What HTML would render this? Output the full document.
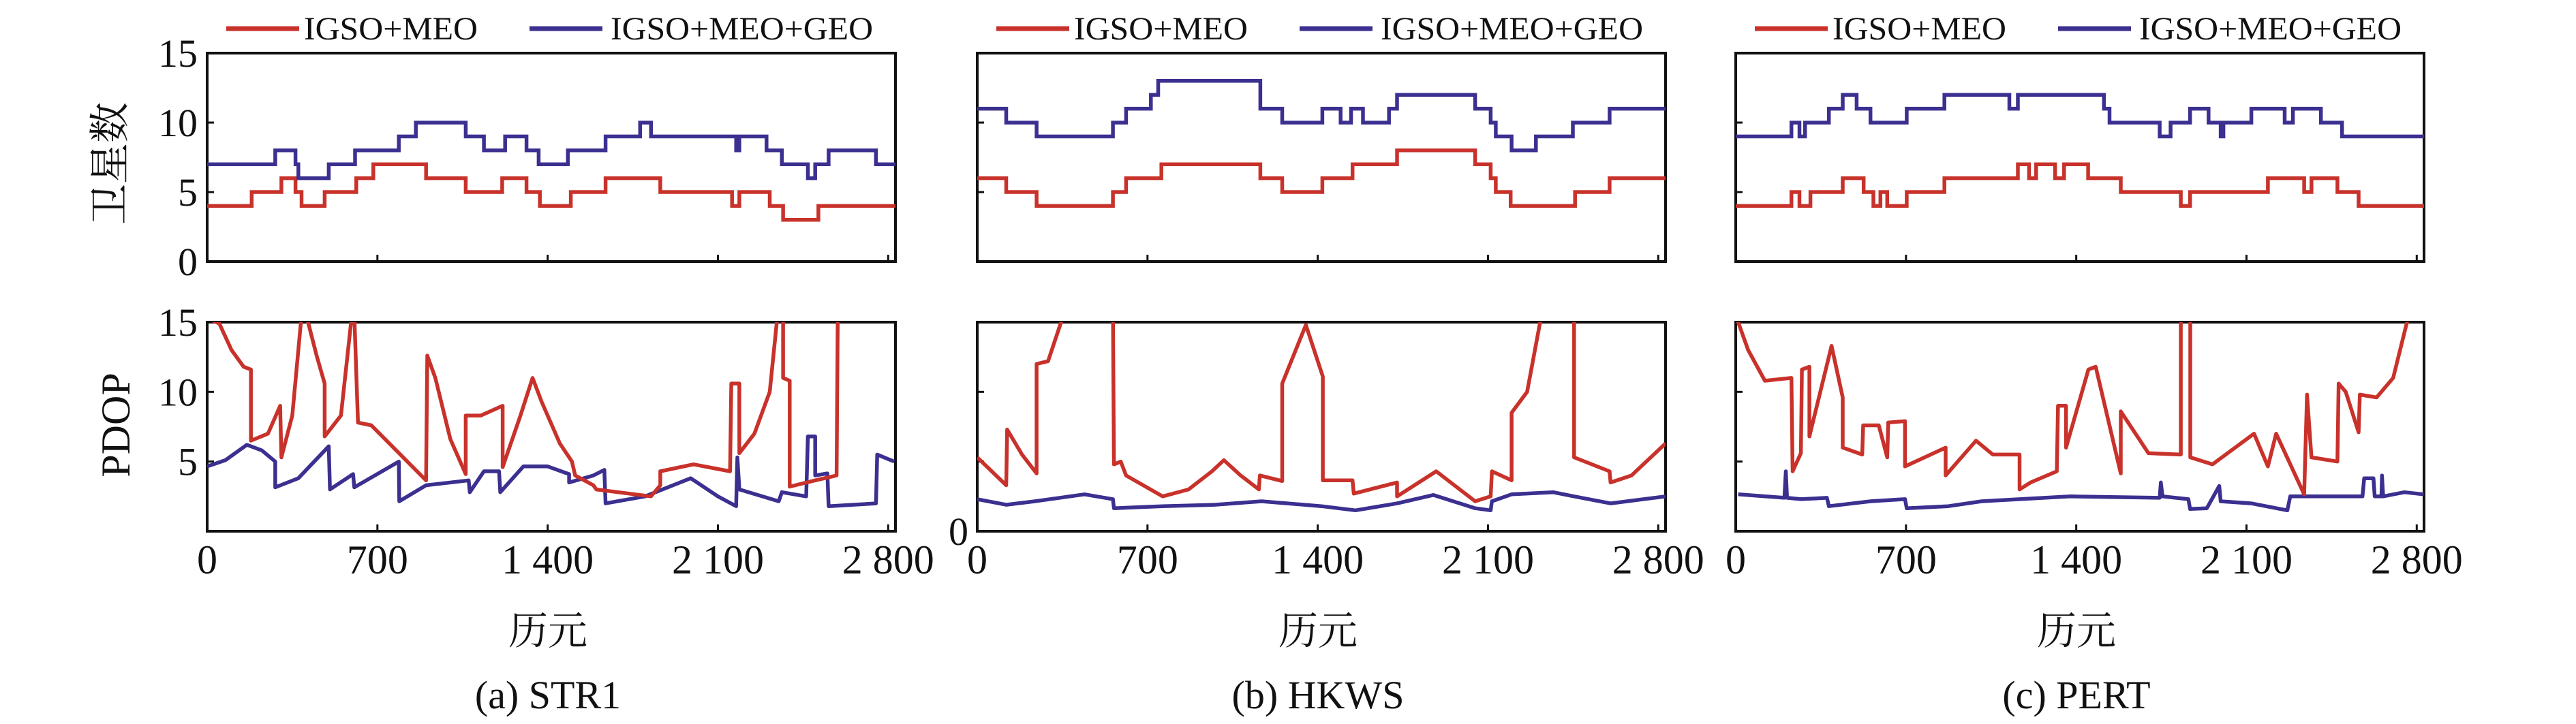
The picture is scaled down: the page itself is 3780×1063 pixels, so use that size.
<!DOCTYPE html>
<html><head><meta charset="utf-8"><style>
html,body{margin:0;padding:0;background:#fff;}
svg{display:block;}
text{font-family:"Liberation Serif","Noto Serif CJK SC",serif;fill:#111;}
</style></head><body>
<svg id="fig" width="3780" height="1063" viewBox="0 0 3780 1063" xmlns="http://www.w3.org/2000/svg"></svg>
<script>
// ---- data ----
const xTicks = [0, 700, 1400, 2100, 2800];
const xTickLabels = ["0", "700", "1 400", "2 100", "2 800"];
const yTicks = [0, 5, 10, 15];
const yTickLabels = ["0", "5", "10", "15"];
const seriesNames = ["IGSO+MEO", "IGSO+MEO+GEO"];
const panelNames = ["(a) STR1", "(b) HKWS", "(c) PERT"];

const aSatRedX = [0,183,305,363,388,483,613,683,900,1063,1213,1313,1368,1495,1638,1863,2158,2188,2313,2368,2513];
const aSatRedV = [4,5,6,5,4,5,6,7,6,5,6,5,4,5,6,5,4,5,4,3,4];
const aSatBlueX = [0,280,363,375,500,608,788,858,1063,1138,1225,1313,1363,1483,1638,1780,1825,2175,2188,2300,2363,2470,2500,2555,2750];
const aSatBlueV = [7,8,7,6,7,8,9,10,9,8,9,8,7,8,9,10,9,8,9,8,7,6,7,8,7];
const bSatRedX = [0,119,244,558,612,757,1164,1254,1419,1543,1726,2047,2111,2132,2193,2458,2600];
const bSatRedV = [6,5,4,5,6,7,6,5,6,7,8,7,6,5,4,5,6];
const bSatBlueX = [0,119,244,558,612,714,744,1164,1254,1419,1494,1537,1586,1693,1726,2047,2111,2132,2197,2297,2449,2600];
const bSatBlueV = [11,10,9,10,11,12,13,11,10,11,10,11,10,11,12,11,10,9,8,9,10,11];
const cSatRedX = [0,229,262,307,440,526,566,595,623,703,858,1160,1206,1235,1313,1350,1449,1583,1830,1868,2188,2337,2367,2474,2561];
const cSatRedV = [4,5,4,5,6,5,4,5,4,5,6,7,6,7,6,7,6,5,4,5,6,5,6,5,4];
const cSatBlueX = [0,229,262,285,383,440,497,554,600,703,858,1125,1160,1514,1537,1743,1788,1868,1944,1994,2005,2120,2257,2291,2406,2493];
const cSatBlueV = [9,10,9,10,11,12,11,10,10,11,12,11,12,11,10,9,10,11,10,9,10,11,10,11,10,9];

const aPdopRedE = [0,50,100,150,180,180,250,300,305,350,388,400,450,483,483,550,595,605,620,675,900,905,938,1000,1063,1063,1125,1215,1215,1288,1338,1375,1450,1500,1513,1588,1600,1825,1863,1863,2000,2150,2155,2188,2188,2250,2313,2345,2368,2368,2395,2395,2500,2588,2593,2600];
const aPdopRedV = [15.3,14.9,13,11.8,11.6,6.5,7,9,5.3,8.3,15.5,16,12.6,10.6,6.8,8.3,15.5,15.5,7.8,7.6,3.65,12.6,11,6.6,4.1,8.3,8.3,9,4.6,8.3,11,9.3,6.3,5,4,3.3,3,2.5,3.3,4.3,4.8,4.3,10.6,10.6,5.6,7,10,15.5,15.5,11,10.8,3.2,3.65,4,16,16];
const aPdopBlueE = [0,75,163,225,280,280,375,500,505,600,605,788,790,900,1075,1080,1138,1200,1205,1300,1400,1488,1488,1588,1633,1638,1800,1988,2100,2175,2180,2188,2350,2363,2463,2470,2500,2500,2550,2555,2750,2755,2825];
const aPdopBlueV = [4.65,5.1,6.2,5.8,5,3.15,3.8,6.1,3,4.1,3.15,5,2.15,3.3,3.65,2.8,4.3,4.3,2.8,4.65,4.65,4.1,3.5,4,4.4,2,2.5,3.8,2.5,1.8,5.3,3,2.15,2.8,2.5,6.8,6.8,4,4.15,1.8,2,5.5,5];
const bPdopRedE = [0,119,123,184,244,244,291,364,558,562,590,612,762,869,965,1014,1083,1158,1162,1254,1254,1351,1421,1421,1543,1548,1726,1726,1887,2047,2111,2116,2197,2197,2261,2325,2454,2454,2600,2604,2690,2830];
const bPdopRedV = [5.3,3.3,7.3,5.5,4.15,12,12.2,16,16,4.8,5,4,2.5,3,4.3,5.1,4,3,4,3.6,10.6,14.8,11.1,3.65,3.65,2.7,3.5,2.5,4.3,2.15,2.5,4.3,3.65,8.5,10,16,16,5.3,4.3,3.5,4,6.3];
const bPdopBlueE = [0,119,237,441,558,562,762,976,1169,1415,1555,1726,1875,2047,2111,2116,2197,2368,2454,2604,2830];
const bPdopBlueV = [2.3,1.9,2.15,2.65,2.3,1.65,1.8,1.9,2.15,1.8,1.5,2,2.6,1.65,1.5,2.15,2.65,2.8,2.5,2,2.5];
const cPdopRedE = [0,10,51,120,229,234,268,272,303,303,394,440,440,520,524,588,623,627,696,696,863,863,988,1057,1167,1167,1212,1320,1325,1358,1358,1450,1480,1583,1583,1697,1830,1830,1869,1869,1960,2131,2188,2222,2337,2349,2367,2474,2479,2508,2561,2566,2635,2703,2760,2780];
const cPdopRedV = [16,15,13,10.8,11,4.3,5.6,11.6,11.8,6.8,13.3,9.6,6,5.5,7.6,7.6,5.3,7.8,7.9,4.65,6,4,6.5,5.5,5.5,3,3.5,4.3,9,9,6,11.6,11.8,4.15,8.6,5.6,5.5,16,16,5.3,4.8,7,4.65,7,2.65,9.8,5.3,5,10.6,10,7.1,9.8,9.6,11,15,16];
const cPdopBlueE = [10,200,206,211,268,375,383,554,696,703,874,1011,1377,1743,1748,1755,1861,1868,1937,1988,1994,2120,2268,2280,2577,2584,2622,2627,2655,2657,2662,2749,2829];
const cPdopBlueV = [2.65,2.4,4.3,2.4,2.3,2.4,1.8,2.15,2.3,1.65,1.8,2.15,2.5,2.4,3.5,2.5,2.3,1.6,1.65,3.25,2.15,2,1.5,2.5,2.5,3.8,3.8,2.5,2.5,4,2.5,2.8,2.65];

// ---- layout ----
const NS = "http://www.w3.org/2000/svg";
const svg = document.getElementById("fig");
const RED = "#c8322b", BLUE = "#3b3090";
const XMAX = 2830, PW = 1010;
const TOP = {y0: 78, y1: 384}, BOT = {y0: 473, y1: 780};
const panels = [
  {left: 304, satR:[aSatRedX,aSatRedV], satB:[aSatBlueX,aSatBlueV], pR:[aPdopRedE,aPdopRedV], pB:[aPdopBlueE,aPdopBlueV]},
  {left: 1434, satR:[bSatRedX,bSatRedV], satB:[bSatBlueX,bSatBlueV], pR:[bPdopRedE,bPdopRedV], pB:[bPdopBlueE,bPdopBlueV]},
  {left: 2547, satR:[cSatRedX,cSatRedV], satB:[cSatBlueX,cSatBlueV], pR:[cPdopRedE,cPdopRedV], pB:[cPdopBlueE,cPdopBlueV]}
];
function el(tag, attrs, parent, txt){
  const e = document.createElementNS(NS, tag);
  for (const k in attrs) e.setAttribute(k, attrs[k]);
  if (txt !== undefined) e.textContent = txt;
  (parent || svg).appendChild(e);
  return e;
}
panels.forEach((p, pi) => {
  const g = el("g", {});
  
  
  const xs = e => p.left + e / XMAX * PW;
  const ysTop = v => TOP.y1 - v / 15 * (TOP.y1 - TOP.y0);
  const ysBot = v => BOT.y1 - v / 15 * (BOT.y1 - BOT.y0);
  // clip paths
  const cid = "clip" + pi;
  const cp = el("clipPath", {id: cid}, g);
  el("rect", {x: p.left, y: BOT.y0, width: PW, height: BOT.y1 - BOT.y0}, cp);
  // legend
  const ly = 42;
  const l1 = el("line", {x1: p.left+28, x2: p.left+135, y1: ly, y2: ly, stroke: RED, "stroke-width": 7}, g);
  
  
  const t1 = el("text", {x: p.left+142, y: ly+16, "font-size": 48, textLength: 255, lengthAdjust: "spacingAndGlyphs"}, g, seriesNames[0]);
  
  
  const l2 = el("line", {x1: p.left+473, x2: p.left+580, y1: ly, y2: ly, stroke: BLUE, "stroke-width": 7}, g);
  
  
  const t2 = el("text", {x: p.left+592, y: ly+16, "font-size": 48, textLength: 385, lengthAdjust: "spacingAndGlyphs"}, g, seriesNames[1]);
  
  

  [[TOP, ysTop, 'satellite-count-plot'], [BOT, ysBot, 'pdop-plot']].forEach(([box, ys, nm], bi) => {
    const r = el("rect", {x: p.left, y: box.y0, width: PW, height: box.y1 - box.y0, fill: "none", stroke: "#111", "stroke-width": 4}, g);
    
    
    xTicks.forEach(t => { if (t > 0) el("line", {x1: xs(t), x2: xs(t), y1: box.y1, y2: box.y1-10, stroke: "#111", "stroke-width": 3}, g); });
    [5,10].forEach(t => el("line", {x1: p.left, x2: p.left+10, y1: ys(t), y2: ys(t), stroke: "#111", "stroke-width": 3}, g));
    if (pi === 0) {
      yTicks.forEach((t, i) => {
        if (bi === 1 && t === 0) return;
        const tl = el("text", {x: 290, y: ys(t)+20, "font-size": 58, "text-anchor": "end"}, g, yTickLabels[i]);
        
        
      });
    }
  });
  if (pi === 1) {
    const z = el("text", {x: 1421, y: BOT.y1+20, "font-size": 58, "text-anchor": "end"}, g, "0");
    
    
  }
  // step series
  [[p.satR, RED, 'sat-count-igso-meo'], [p.satB, BLUE, 'sat-count-igso-meo-geo']].forEach(([s, col, nm]) => {
    const [X, V] = s; let d = "";
    for (let i = 0; i < X.length; i++) {
      const x0 = xs(X[i]), x1 = xs(i+1 < X.length ? X[i+1] : XMAX), y = ysTop(V[i]);
      d += (i === 0 ? "M" : "L") + x0.toFixed(1) + "," + y.toFixed(1) + "L" + x1.toFixed(1) + "," + y.toFixed(1);
    }
    const pth = el("path", {d: d, fill: "none", stroke: col, "stroke-width": 5.5, "stroke-linejoin": "miter"}, g);
    
    
  });
  // pdop series
  [[p.pB, BLUE, 'pdop-igso-meo-geo'], [p.pR, RED, 'pdop-igso-meo']].forEach(([s, col, nm]) => {
    const [E, V] = s;
    const pts = E.map((e, i) => xs(e).toFixed(1) + "," + ysBot(V[i]).toFixed(1)).join(" ");
    const pl = el("polyline", {points: pts, fill: "none", stroke: col, "stroke-width": 5.5, "stroke-linejoin": "round", "clip-path": "url(#" + cid + ")"}, g);
    
    
  });
  // x tick labels
  xTicks.forEach((t, i) => {
    const tl = el("text", {x: xs(t), y: 842, "font-size": 60, "text-anchor": "middle"}, g, xTickLabels[i]);
    
    
  });
  const xt = el("text", {x: p.left + 500, y: 946, "font-size": 58, "text-anchor": "middle"}, g, "历元");
  
  
  const cap = el("text", {x: p.left + 500, y: 1040, "font-size": 58, "text-anchor": "middle"}, g, panelNames[pi]);
  
  
});
const y1 = el("text", {x: 0, y: 0, "font-size": 60, "text-anchor": "middle", transform: "translate(182,240) rotate(-90)"}, svg, "卫星数");


const y2 = el("text", {x: 0, y: 0, "font-size": 60, "text-anchor": "middle", transform: "translate(190,624) rotate(-90)"}, svg, "PDOP");


</script>
</body></html>
